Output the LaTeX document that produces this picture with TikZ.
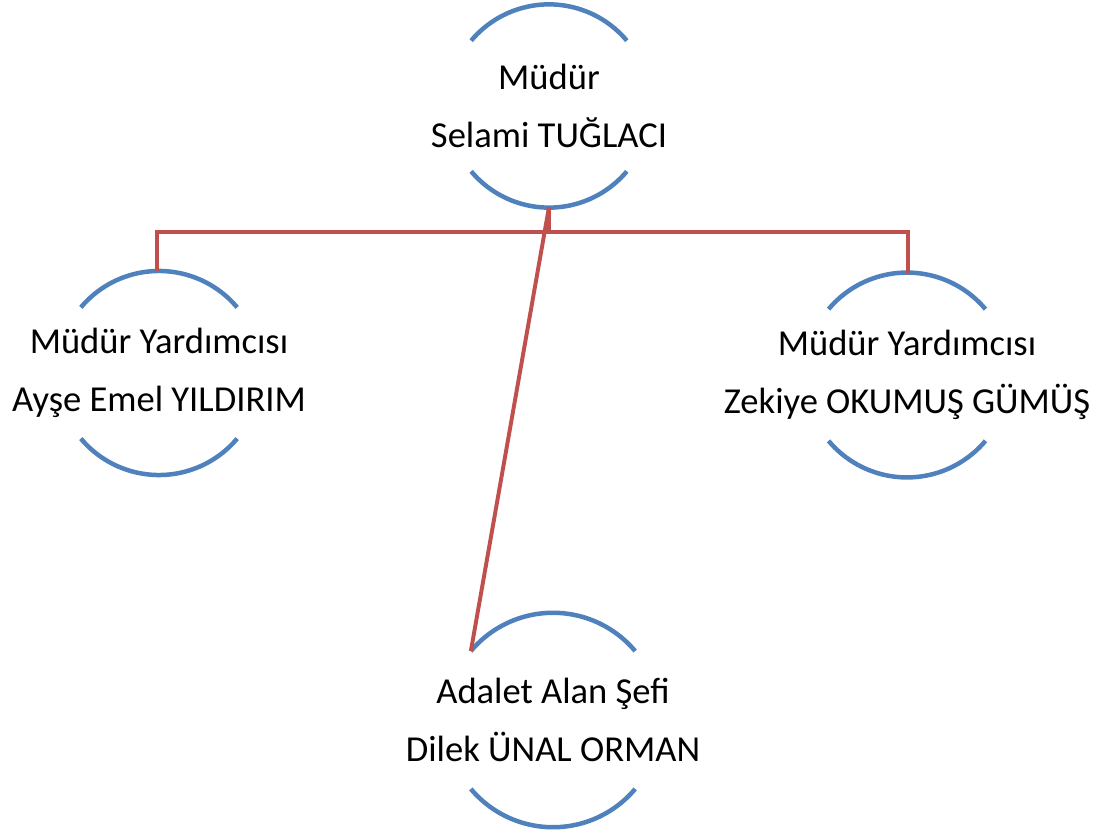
\documentclass[tikz,border=0pt]{standalone}
\usepackage{fontspec}
\setmainfont{Carlito}
\usetikzlibrary{calc}

\definecolor{arcblue}{HTML}{4F81BD}
\definecolor{linkred}{HTML}{C0504D}

% two arcs round a member node: #1 node, #2 radius
\newcommand{\memberarcs}[2]{%
  \draw[arcline] (#1.center) ++(40:#2) arc [start angle=40, end angle=140, radius=#2];
  \draw[arcline] (#1.center) ++(220:#2) arc [start angle=220, end angle=320, radius=#2];
}

\begin{document}
\begin{tikzpicture}[x=0.025cm,y=-0.025cm,
    member/.style={align=center,inner sep=0pt,
                   font=\fontsize{26}{41}\selectfont},
    arcline/.style={arcblue,line width=3.2pt},
    link/.style={linkred,line width=2.8pt}]
       \useasboundingbox (0,0) rectangle (1108,832);
       \node (mudur) at (549,106) [member]{Müdür\\Selami TUĞLACI};
       \node (ayse) at (159,373) [member]{Müdür Yardımcısı\\Ayşe Emel YILDIRIM};
       \node (zekiye) at (907,375) [member]{Müdür Yardımcısı\\Zekiye OKUMUŞ GÜMÜŞ};
       \node (dilek) at (553,720) [member]{Adalet Alan Şefi\\Dilek ÜNAL ORMAN};
       \memberarcs{mudur}{2.54cm}
       \memberarcs{ayse}{2.55cm}
       \memberarcs{zekiye}{2.56cm}
       \memberarcs{dilek}{2.68cm}
       \draw[link] ($(mudur)+(0,101)$) -- ($(mudur)+(0,126)$);
       \draw[link] ($(ayse)+(-2,-102)$) -- ($(ayse)+(-2,-141)$)
                   -| ($(zekiye)+(1,-102)$);
       \draw[link] ($(mudur)+(0,101)$) -- ($(dilek.center)+(140:2.68cm)$);
\end{tikzpicture}
\end{document}
